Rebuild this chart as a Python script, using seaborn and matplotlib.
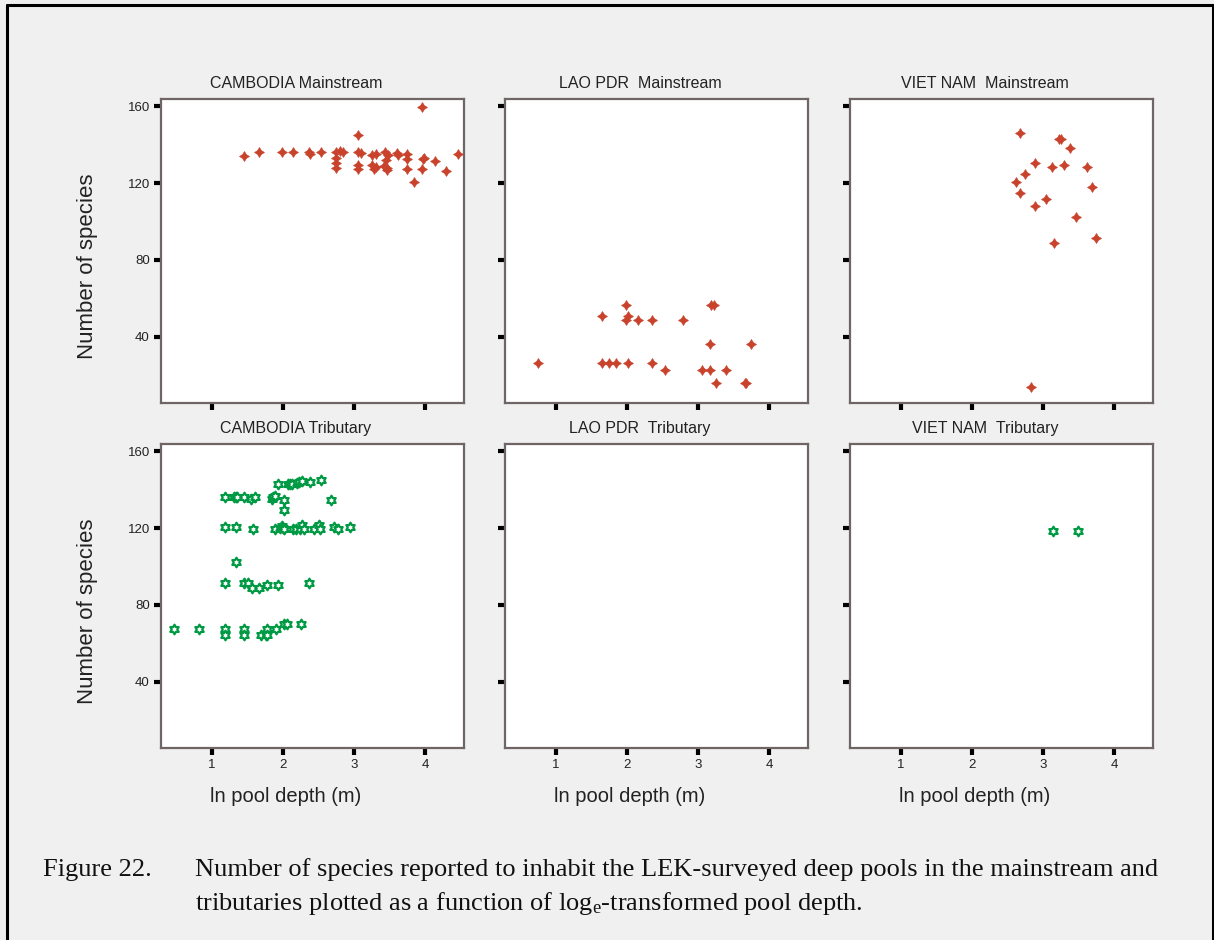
import numpy as np
import pandas as pd
import matplotlib
matplotlib.use("Agg")
import matplotlib.pyplot as plt
from matplotlib.path import Path
from matplotlib.lines import Line2D
import seaborn as sns

# ---------------- data ----------------
camb_main_x = [1.45, 1.66, 1.99, 2.14, 2.36, 2.38, 2.54, 2.75, 2.80, 2.84, 2.75, 2.75, 2.75,
               3.05, 3.05, 3.10, 3.05, 3.05, 3.26, 3.31, 3.26, 3.28, 3.31, 3.43, 3.48, 3.45,
               3.42, 3.47, 3.46, 3.62, 3.60, 3.75, 3.75, 3.75, 3.84, 3.96, 3.97, 3.99, 3.96,
               4.14, 4.29, 4.46]
camb_main_y = [134, 136, 136, 136, 136, 135, 136, 136, 136.5, 136, 133, 130.5, 128,
               145, 136, 135.5, 129.5, 127.5, 134.5, 135.3, 129.3, 127.5, 128.5, 136, 134.5, 132,
               129, 126.7, 128, 134.8, 135.5, 135.3, 132.7, 127.2, 120.6, 159.7, 132.7, 133, 127.2,
               131.7, 126.1, 135.3]

lao_main_x = [0.74, 1.65, 1.65, 1.74, 1.84, 1.99, 1.99, 2.02, 2.01, 2.16, 2.35, 2.35, 2.53,
              2.79, 3.05, 3.17, 3.17, 3.19, 3.23, 3.26, 3.40, 3.66, 3.68, 3.75]
lao_main_y = [26.3, 51, 26.3, 26.3, 26.3, 56.5, 48.7, 51, 26.3, 48.7, 48.7, 26.3, 22.8,
              48.7, 22.8, 22.8, 36.4, 56.5, 56.5, 16.1, 22.8, 16.1, 16.1, 36.4]

viet_main_x = [2.68, 3.23, 3.26, 3.38, 2.89, 3.13, 3.29, 3.62, 2.74, 2.62, 2.68, 3.69,
               3.04, 2.89, 3.47, 3.16, 3.74, 2.83]
viet_main_y = [146.3, 143, 143, 138.5, 130.7, 128.2, 129.4, 128.4, 124.9, 120.6, 114.9, 118.2,
               111.6, 108.1, 102.5, 89, 91.4, 14]

camb_trib_x = [1.93, 2.07, 2.10, 2.13, 2.20, 2.23, 2.27, 2.38, 2.54,
               1.18, 1.31, 1.33, 1.35, 1.45, 1.55, 1.61, 1.84, 1.86, 1.89, 2.02, 2.02, 2.68,
               1.18, 1.33, 1.57, 1.89, 1.96, 1.99, 2.00, 2.02, 2.14, 2.18, 2.24, 2.27, 2.30,
               2.44, 2.50, 2.52, 2.72, 2.78, 2.95,
               1.33,
               1.18, 1.45, 1.51, 1.56, 1.66, 1.78, 1.93, 2.36,
               0.47, 0.81, 1.18, 1.18, 1.45, 1.45, 1.69, 1.76, 1.78, 1.78, 1.90, 2.02, 2.06, 2.25]
camb_trib_y = [143, 143, 143, 143, 143.3, 143.9, 144.4, 144.2, 145,
               136.4, 136.4, 136.4, 136.4, 136.4, 135.2, 136.4, 135.2, 136.4, 136.7, 134.8, 129.4, 134.8,
               120.4, 120.4, 119.4, 119.4, 120, 121.3, 120, 119.4, 119.4, 119.4, 119.4, 121.6, 119.4,
               119.4, 121.6, 119.4, 120.4, 119.4, 120.4,
               102.5,
               91.2, 91.2, 91.2, 89, 89, 90.2, 90.2, 91.2,
               67.6, 67.6, 67.6, 64.3, 67.6, 64.3, 64.3, 64.3, 67.5, 64.3, 67.6, 70.1, 70.1, 70.1]

lao_trib_x = []
lao_trib_y = []

viet_trib_x = [3.14, 3.50]
viet_trib_y = [118.5, 118.5]

countries = ["CAMBODIA", "LAO PDR ", "VIET NAM "]
river_types = ["Mainstream", "Tributary"]
x_ticks = [1, 2, 3, 4]
y_ticks = [40, 80, 120, 160]

panels = {
    ("CAMBODIA", "Mainstream"): (camb_main_x, camb_main_y),
    ("LAO PDR ", "Mainstream"): (lao_main_x, lao_main_y),
    ("VIET NAM ", "Mainstream"): (viet_main_x, viet_main_y),
    ("CAMBODIA", "Tributary"): (camb_trib_x, camb_trib_y),
    ("LAO PDR ", "Tributary"): (lao_trib_x, lao_trib_y),
    ("VIET NAM ", "Tributary"): (viet_trib_x, viet_trib_y),
}

# ---------------- style ----------------
sns.set_theme(style="white")
plt.rcParams["font.family"] = ["Liberation Sans", "DejaVu Sans"]
plt.rcParams["mathtext.fontset"] = "custom"
plt.rcParams["mathtext.rm"] = "Liberation Serif"
plt.rcParams["mathtext.it"] = "Liberation Serif:italic"

RED = "#c9432c"
GREEN = "#009a44"
SPINE = "#706565"
BG = "#f0f0f0"
TXT = "#222222"

# marker shapes
diamond_star = Path([(0, 1), (0.38, 0.38), (1, 0), (0.38, -0.38), (0, -1),
                     (-0.38, -0.38), (-1, 0), (-0.38, 0.38), (0, 1)], closed=True)
ang = np.deg2rad(np.arange(12) * 30 + 90)
rad = np.where(np.arange(12) % 2 == 0, 1.0, 0.577)
hexa_verts = np.column_stack([rad * np.cos(ang), rad * np.sin(ang)])
hexagram = Path(np.vstack([hexa_verts, hexa_verts[:1]]), closed=True)

W, H = 1214, 940
fig = plt.figure(figsize=(W / 100, H / 100), dpi=100, facecolor=BG)

col_left = [161, 505, 850]
row_top = [99, 444]
ax_w, ax_h = 303, 304

for r, rt in enumerate(river_types):
    for c, ctry in enumerate(countries):
        x0 = col_left[c] / W
        y0 = (H - row_top[r] - ax_h) / H
        ax = fig.add_axes([x0, y0, ax_w / W, ax_h / H])
        ax.set_facecolor("white")
        xs, ys = panels[(ctry, rt)]
        df = pd.DataFrame({"depth": xs, "species": ys})
        if len(df):
            if rt == "Mainstream":
                sns.scatterplot(data=df, x="depth", y="species", ax=ax, marker=diamond_star,
                                s=50, color=RED, edgecolor=RED, linewidth=0.5, zorder=3)
            else:
                sns.scatterplot(data=df, x="depth", y="species", ax=ax, marker=hexagram,
                                s=48, facecolor="white", edgecolor=GREEN, linewidth=1.6, zorder=3)
        ax.set_xlim(0.28, 4.55)
        ax.set_ylim(5.5, 163.8)
        ax.set_xticks(x_ticks)
        ax.set_yticks(y_ticks)
        for sp in ax.spines.values():
            sp.set_color(SPINE)
            sp.set_linewidth(1.6)
        ax.tick_params(axis="both", which="major", direction="out", length=5, width=3,
                       color="black", labelsize=9.5, labelcolor=TXT, pad=3,
                       bottom=True, left=True,
                       labelbottom=(r == 1), labelleft=(c == 0))
        ax.set_title(f"{ctry} {rt}", fontsize=11.5, color=TXT, x=0.445, pad=8)
        if r == 1:
            ax.set_xlabel("ln pool depth (m)", fontsize=14.5, color=TXT)
            ax.xaxis.set_label_coords(0.41, -0.128)
        else:
            ax.set_xlabel("")
        if c == 0:
            ax.set_ylabel("Number of species", fontsize=16, color=TXT)
            ax.yaxis.set_label_coords(-0.208, 0.45)
        else:
            ax.set_ylabel("")
        ax.grid(False)

# caption
cap_font = dict(family=["Liberation Serif", "DejaVu Serif"], fontsize=19, color="#111111",
                va="baseline", ha="left")
fig.text(43 / W, 1 - 876 / H, "Figure 22.", **cap_font)
fig.text(195 / W, 1 - 876 / H,
         "Number of species reported to inhabit the LEK-surveyed deep pools in the mainstream and",
         **cap_font)
fig.text(195 / W, 1 - 910 / H,
         r"tributaries plotted as a function of log$_{\mathrm{e}}$-transformed pool depth.",
         **cap_font)

# frame border
lw = 2.2
fig.add_artist(Line2D([7 / W, 7 / W], [0, 1 - 5 / H], transform=fig.transFigure,
                      color="black", linewidth=lw))
fig.add_artist(Line2D([7 / W, 1212.5 / W], [1 - 5 / H, 1 - 5 / H], transform=fig.transFigure,
                      color="black", linewidth=lw))
fig.add_artist(Line2D([1212.5 / W, 1212.5 / W], [0, 1 - 5 / H], transform=fig.transFigure,
                      color="black", linewidth=lw))

fig.savefig("out.png", dpi=100, facecolor=BG)
